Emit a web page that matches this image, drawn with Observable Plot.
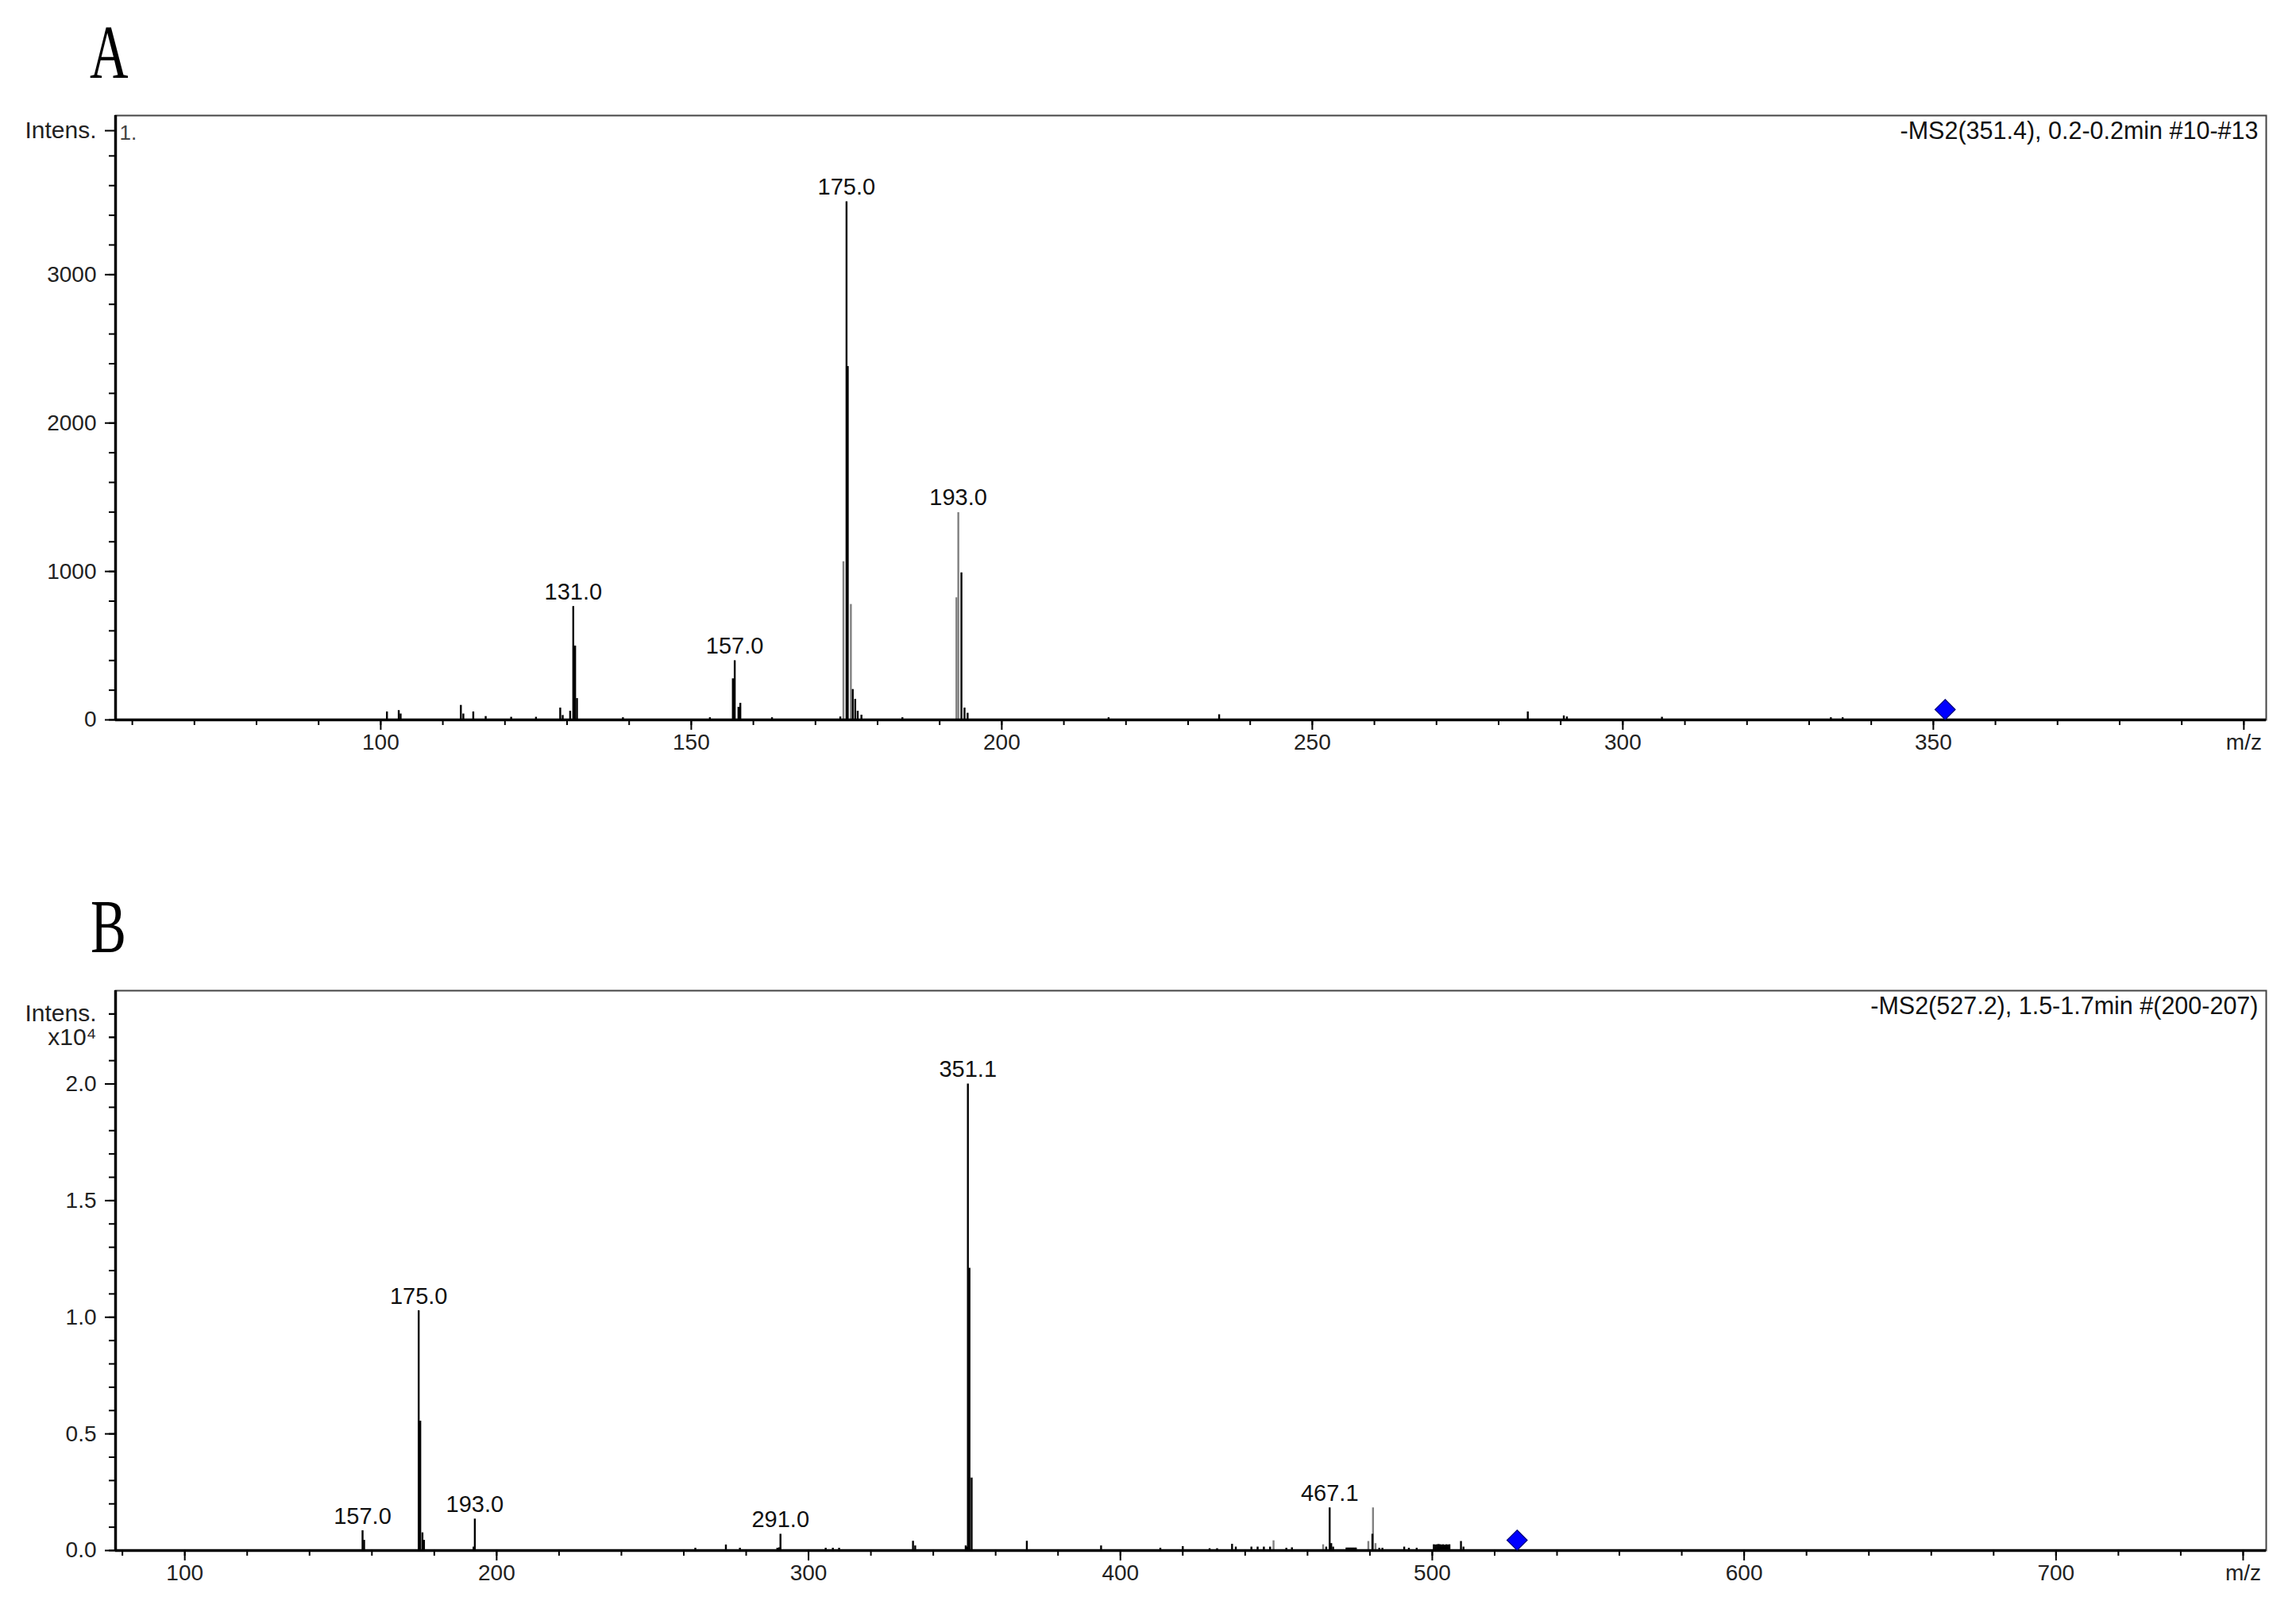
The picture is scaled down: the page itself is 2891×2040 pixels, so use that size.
<!DOCTYPE html>
<html><head><meta charset="utf-8">
<script src="https://cdn.jsdelivr.net/npm/d3@7"></script>
<script src="https://cdn.jsdelivr.net/npm/@observablehq/plot@0.6"></script>
<style>
html,body{margin:0;padding:0;background:#fff;}
#wrap{position:relative;width:2891px;height:2040px;overflow:hidden;background:#fff;}
.panel{position:absolute;left:0;}
.panel svg{max-width:none;}
.letter{position:absolute;font-family:"Liberation Serif","DejaVu Serif",serif;font-size:96px;line-height:96px;color:#000;transform:scaleX(0.7);transform-origin:0 0;}
</style></head><body>
<div id="wrap">
<div class="panel" id="pa" style="top:0"></div>
<div class="panel" id="pb" style="top:1000px"></div>
<div class="letter" id="la" style="left:113px;top:18px"></div>
<div class="letter" id="lb" style="left:114px;top:1119px"></div>
</div>
<script>
// ---------- data ----------
const panelLetters = ["A", "B"];
const titleA = "-MS2(351.4), 0.2-0.2min #10-#13";
const titleB = "-MS2(527.2), 1.5-1.7min #(200-207)";
const cornerNoteA = "1.";

// Panel A spectrum (m/z, intensity counts)
const mzA  = [101.0,102.9,103.2,112.9,113.3,114.9,116.9,121.0,125.0,128.9,129.3,130.5,131.0,131.3,131.6,139.0,153.0,156.7,157.0,157.6,157.9,163.0,174.0,175.0,175.2,176.0,176.4,176.8,177.4,184.0,193.5,194.0,194.5,217.2,235.0,284.7,290.5,291.0,306.3,333.5,335.4];
const intA = [54,63,40,98,40,54,23,18,18,80,30,59,764,498,144,15,15,277,399,85,112,15,20,3491,2381,205,139,59,32,15,991,80,45,15,35,54,27,20,18,15,15];
// Panel A shaded (grey-drawn) sticks
const mzA2  = [174.5,175.7,192.7,193.0];
const intA2 = [1066,778,823,1397];
// Panel A annotated peaks
const labelMzA  = [131.0,157.0,175.0,193.0];
const labelIntA = [764,399,3491,1397];
const precursorA = [351.9];

// Panel B spectrum (m/z, intensity counts)
const mzB  = [157.0,157.5,175.0,175.5,176.2,176.7,192.6,193.0,263.7,273.5,278.0,290.0,290.6,291.0,305.5,307.8,309.8,333.5,334.2,350.4,350.8,351.1,351.6,352.3,370.0,393.8,412.8,420.0,428.6,431.0,435.8,437.0,442.0,444.0,446.0,448.0,453.2,455.0,466.0,467.1,467.6,468.2,472.5,473.0,473.5,474.0,474.5,475.0,475.5,480.8,483.0,484.0,491.0,492.5,495.0,500.5,501.0,501.5,502.0,502.5,503.0,503.5,504.0,504.5,505.0,505.5,509.2,510.0];
const intB = [850,440,10280,5550,760,440,150,1350,100,240,100,100,120,700,100,100,100,400,200,200,150,20000,12100,3110,400,200,100,170,80,80,270,150,150,150,150,150,100,120,150,1830,300,150,110,110,110,110,110,110,110,700,100,100,150,100,100,250,240,250,260,250,240,250,230,250,240,250,390,150];
const mzB2  = [449.1,465.0,479.5,481.0,481.8];
const intB2 = [420,250,390,1830,300];
const labelMzB  = [157.0,175.0,193.0,291.0,351.1,467.1];
const labelIntB = [850,10280,1350,700,20000,1830];
const precursorB = [527.2];

// Axes
const xDomA = [57.3, 403.6];
const yDomA = [0, 4072];
const majorXA = [100,150,200,250,300,350,400];
const minorXA = d3.range(60, 401, 10);
const majorYA = [0,1000,2000,3000];
const minorYA = d3.range(0, 3801, 200);
const intensTickA = [3970];

const xDomB = [77.8, 767.4];
const yDomB = [0, 24000];
const majorXB = [100,200,300,400,500,600,700,760];
const minorXB = d3.range(80, 761, 20);
const majorYB = [0,5000,10000,15000,20000];
const minorYB = d3.range(0, 23001, 1000);
const intensTickB = [23000];
const expTickB = [22000];

// ---------- helpers ----------
const toRows = (mz, it) => mz.map((m, i) => ({mz: m, int: it[i]}));
const font = "'Liberation Sans', Arial, sans-serif";

function spectrum({el, height, marginTop, marginBottom, xDom, yDom, black, grey, labels, precursor,
                   majorX, minorX, xEndLabel, majorY, minorY, yFmt, extraY, title, note}) {
  const marks = [
    Plot.frame({stroke: "#444", strokeWidth: 2}),
    Plot.ruleX(grey, {x: "mz", y1: 0, y2: "int", stroke: "#808080", strokeWidth: 2.4}),
    Plot.ruleX(black, {x: "mz", y1: 0, y2: "int", stroke: "#000", strokeWidth: 2.4}),
    Plot.text(labels, {x: "mz", y: "int", text: d => d.mz.toFixed(1), lineAnchor: "bottom", dy: -9, fill: "#111", fontSize: 29}),
    Plot.ruleY([yDom[0]], {stroke: "#000", strokeWidth: 3.5}),
    Plot.ruleX([xDom[0]], {stroke: "#000", strokeWidth: 3.5}),
    Plot.axisX(minorX, {tickSize: 7, strokeWidth: 2, tickFormat: () => "", label: null}),
    Plot.axisX(majorX, {tickSize: 13, strokeWidth: 2, tickPadding: 5, fill: "#222",
      tickFormat: d => d === xEndLabel ? "m/z" : String(d), label: null}),
    Plot.axisY(minorY, {tickSize: 8, strokeWidth: 2, tickFormat: () => "", label: null}),
    Plot.axisY(majorY, {tickSize: 13, strokeWidth: 2, tickPadding: 11, fill: "#222", tickFormat: yFmt, label: null}),
    ...extraY.map(e => Plot.axisY(e.ticks, {tickSize: e.size, strokeWidth: 2, tickPadding: e.pad, fill: "#222",
      fontSize: 30, tickFormat: () => e.text, label: null})),
    Plot.dot(precursor, {x: d => d, y: yDom[0], symbol: "diamond2", r: 11.5, dy: -13,
      fill: "#0000ff", stroke: "#00007a", strokeWidth: 1.2}),
    Plot.text([title], {text: d => d, frameAnchor: "top-right", dx: -10, dy: 20, lineAnchor: "middle",
      textAnchor: "end", fill: "#111", fontSize: 30.5})
  ];
  if (note) marks.push(Plot.text([note], {text: d => d, frameAnchor: "top-left", dx: 5, dy: 22,
      lineAnchor: "middle", textAnchor: "start", fill: "#444", fontSize: 26}));
  const chart = Plot.plot({
    width: 2891, height, marginTop, marginBottom, marginLeft: 145, marginRight: 38,
    x: {domain: xDom}, y: {domain: yDom},
    style: {fontFamily: font, fontSize: "28px", background: "#fff", color: "#000", overflow: "visible"},
    marks
  });
  document.getElementById(el).appendChild(chart);
}

spectrum({
  el: "pa", height: 1000, marginTop: 145, marginBottom: 94,
  xDom: xDomA, yDom: yDomA, black: toRows(mzA, intA), grey: toRows(mzA2, intA2),
  labels: toRows(labelMzA, labelIntA), precursor: precursorA,
  majorX: majorXA, minorX: minorXA, xEndLabel: 400,
  majorY: majorYA, minorY: minorYA, yFmt: d => String(d),
  extraY: [{ticks: intensTickA, size: 13, pad: 11, text: "Intens."}],
  title: titleA, note: cornerNoteA
});

spectrum({
  el: "pb", height: 1040, marginTop: 247, marginBottom: 88,
  xDom: xDomB, yDom: yDomB, black: toRows(mzB, intB), grey: toRows(mzB2, intB2),
  labels: toRows(labelMzB, labelIntB), precursor: precursorB,
  majorX: majorXB, minorX: minorXB, xEndLabel: 760,
  majorY: majorYB, minorY: minorYB, yFmt: d => (d / 1e4).toFixed(1),
  extraY: [{ticks: intensTickB, size: 8, pad: 16, text: "Intens."}, {ticks: expTickB, size: 8, pad: 16, text: "x10⁴"}],
  title: titleB, note: null
});

document.getElementById("la").textContent = panelLetters[0];
document.getElementById("lb").textContent = panelLetters[1];
</script>
</body></html>
